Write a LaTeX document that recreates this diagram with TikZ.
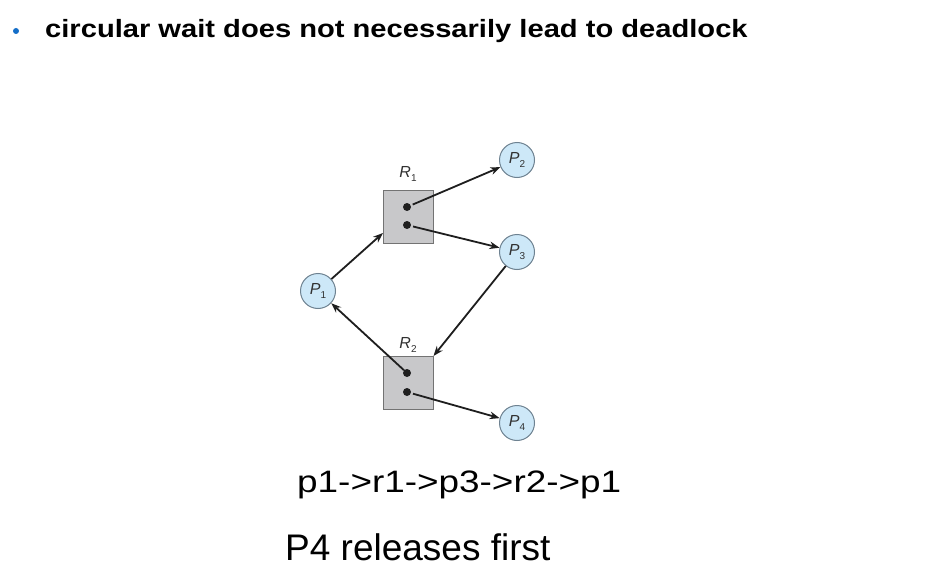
\documentclass[tikz,border=0pt]{standalone}
\usepackage{fontspec}
\setmainfont{Liberation Sans}
\usetikzlibrary{arrows.meta}
\definecolor{bulletblue}{RGB}{20,110,200}
\definecolor{procfill}{RGB}{205,232,248}
\definecolor{procdraw}{RGB}{110,130,145}
\definecolor{resfill}{RGB}{200,200,202}
\definecolor{resdraw}{RGB}{115,115,115}
\definecolor{arrowcol}{RGB}{30,30,30}
\definecolor{labcol}{RGB}{50,50,50}
\tikzset{
  proc/.style={circle, draw=procdraw, fill=procfill, line width=1pt, minimum size=35pt, inner sep=0pt, text=labcol, font=\fontsize{16}{18}\selectfont},
  res/.style={rectangle, draw=resdraw, fill=resfill, line width=1pt, minimum width=50pt, minimum height=53pt, inner sep=0pt},
  dotn/.style={circle, fill=black!88, minimum size=8pt, inner sep=0pt},
  rlabel/.style={text=labcol, font=\fontsize{16}{18}\selectfont},
  arr/.style={draw=arrowcol, line width=1.8pt, -{Stealth[length=10pt,width=7.5pt]}},
  titletext/.style={anchor=base west, inner sep=0pt, font=\bfseries\fontsize{25}{30}\selectfont},
  bigtext/.style={anchor=base west, inner sep=0pt}
}
\newcommand{\plab}[1]{\textit{P}\raisebox{-0.4ex}{\fontsize{10}{11}\selectfont #1}}
\newcommand{\rlab}[1]{\textit{R}\raisebox{-0.4ex}{\fontsize{10}{11}\selectfont #1}}
\begin{document}
\begin{tikzpicture}[x=1pt,y=-1pt]
\useasboundingbox[fill=white] (0,0) rectangle (932,578);
% title
\fill[bulletblue] (16,31) circle (3pt);
\node[titletext] (title) at (45,37.7) {\scalebox{1.165}[1]{circular wait does not necessarily lead to deadlock}};
% resources
\node[res] (r1) at (408,216.5) {};
\node[res] (r2) at (408,383) {};
\node[rlabel] (r1l) at (408,174) {\rlab{1}};
\node[rlabel] (r2l) at (408,345) {\rlab{2}};
\node[dotn] (r1a) at (407,207) {};
\node[dotn] (r1b) at (407,225) {};
\node[dotn] (r2a) at (407,373) {};
\node[dotn] (r2b) at (407,392) {};
% processes
\node[proc] (p1) at (318,291) {\plab{1}};
\node[proc] (p2) at (517,160) {\plab{2}};
\node[proc] (p3) at (517,252) {\plab{3}};
\node[proc] (p4) at (517,423) {\plab{4}};
\coordinate (r1in) at (383,233);
% edges
\draw[arr] (p1) -- (r1in);
\draw[arr, shorten <=2pt] (r1a) -- (p2);
\draw[arr, shorten <=2pt] (r1b) -- (p3);
\draw[arr] (p3) -- (r2.north east);
\draw[arr] (r2a) -- (p1);
\draw[arr, shorten <=2pt] (r2b) -- (p4);
% bottom text
\node[bigtext, font=\fontsize{31}{36}\selectfont] (cycle) at (297,492.7) {\scalebox{1.19}[1]{p1->r1->p3->r2->p1}};
\node[bigtext, font=\fontsize{37}{44}\selectfont] (rel) at (285,560.7) {P4 releases first};
\end{tikzpicture}
\end{document}
